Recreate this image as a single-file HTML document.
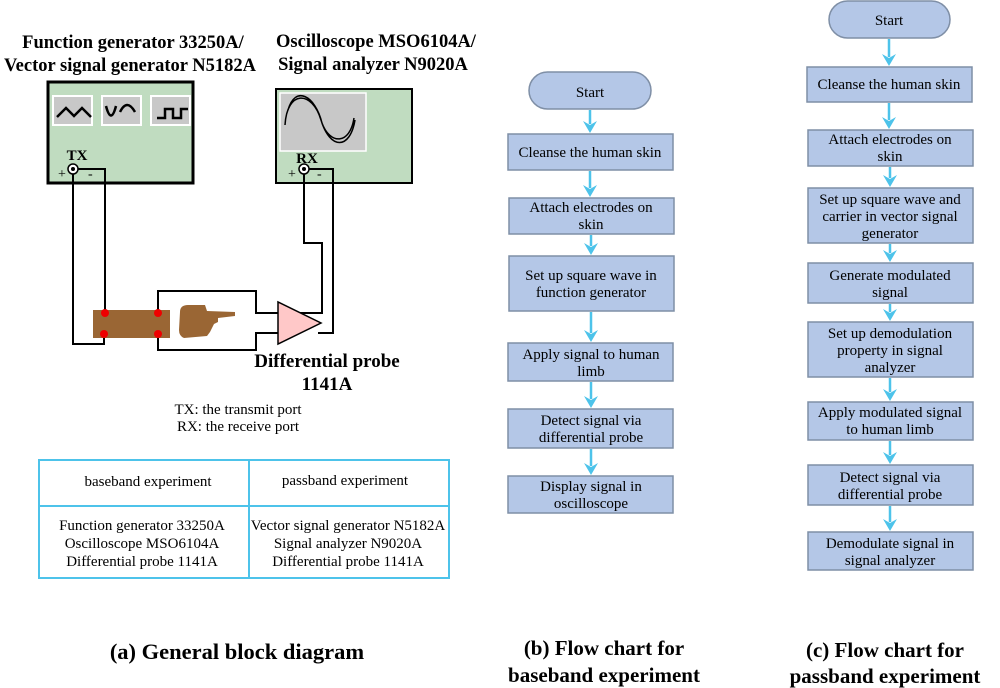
<!DOCTYPE html>
<html><head><meta charset="utf-8"><style>
body{margin:0;background:#fff}
svg{display:block}
text{font-family:"Liberation Serif",serif;fill:#000}
.b{font-weight:bold}
.fb{fill:#b4c7e7;stroke:#7f8fa6;stroke-width:1.5}
.ar line{stroke:#4dc3ea;stroke-width:2.5}
.ar path{fill:#4dc3ea}
</style></head><body>
<svg width="1000" height="688" viewBox="0 0 1000 688">
<!-- titles -->
<text class="b" x="133" y="48" font-size="18.5" text-anchor="middle">Function generator 33250A/</text>
<text class="b" x="130" y="71" font-size="18.5" text-anchor="middle">Vector signal generator N5182A</text>
<text class="b" x="376" y="47" font-size="18.5" text-anchor="middle">Oscilloscope MSO6104A/</text>
<text class="b" x="373" y="70" font-size="18.5" text-anchor="middle">Signal analyzer N9020A</text>
<!-- FG -->
<rect x="48" y="82" width="145" height="101" fill="#c0dcc0" stroke="#000" stroke-width="3"/>
<g fill="#c8c8c8" stroke="#fff" stroke-width="2">
<rect x="53" y="96" width="39" height="29"/><rect x="102" y="96" width="39" height="29"/><rect x="151" y="96" width="39" height="29"/></g>
<g fill="none" stroke="#000" stroke-width="2.5">
<path d="M57,117 L66,108 L74,116 L82,108 L91,117"/>
<path d="M106,106 Q111,125 116,106 M120,112 Q127,98 135,112"/>
<path d="M157,118 L165,118 L165,109 L173,109 L173,118 L181,118 L181,109 L188,109"/>
</g>
<text class="b" x="77" y="160" font-size="15" text-anchor="middle">TX</text>
<text x="58" y="178" font-size="14">+</text><text x="88" y="178" font-size="14">-</text>
<!-- Osc -->
<rect x="276" y="89" width="136" height="94" fill="#c0dcc0" stroke="#000" stroke-width="2"/>
<rect x="280" y="93" width="86" height="58" fill="#c8c8c8" stroke="#fff" stroke-width="1.5"/>
<path d="M285,125 C287,90 312,90 321,120 C330,150 350,150 355,120 M288,110 C295,85 315,95 322,123 C330,145 350,145 354,118" fill="none" stroke="#000" stroke-width="1.5"/>
<text class="b" x="307" y="163" font-size="15" text-anchor="middle">RX</text>
<text x="288" y="178" font-size="14">+</text><text x="317" y="178" font-size="14">-</text>
<!-- wires -->
<g fill="none" stroke="#000" stroke-width="2">
<path d="M73,169 L73,344 L104,344 L104,334"/>
<path d="M73,169 L105,169 L105,313"/>
<path d="M158,313 L158,291 L256,291 L256,313 L279,313"/>
<path d="M158,334 L158,350 L256,350 L256,333 L279,333"/>
<path d="M300,313 L322,313 L322,243 L304,243 L304,169"/>
<path d="M318,333 L333,333 L333,169 L304,169"/>
</g>
<circle cx="73" cy="169" r="5" fill="#fff" stroke="#000" stroke-width="1.5"/><circle cx="73" cy="169" r="2" fill="#000"/>
<circle cx="304" cy="169" r="5" fill="#fff" stroke="#000" stroke-width="1.5"/><circle cx="304" cy="169" r="2" fill="#000"/>
<rect x="93" y="310" width="77" height="28" fill="#9a6634"/>
<g fill="#e00"><circle cx="105" cy="313" r="4"/><circle cx="104" cy="334" r="4"/><circle cx="158" cy="313" r="4"/><circle cx="158" cy="334" r="4"/></g>
<path d="M180,312 Q180,305 188,305 L205,305 L207,311 L235,312 L235,316 L218,318 L218,322 L214,324 L212,328 L210,332 L207,336 L184,338 Q179,336 179,330 Z" fill="#9a6634"/>
<path d="M278,302 L278,344 L321,323 Z" fill="#ffc8c8" stroke="#000" stroke-width="1.5"/>
<text class="b" x="327" y="367" font-size="19" text-anchor="middle">Differential probe</text>
<text class="b" x="327" y="390" font-size="19" text-anchor="middle">1141A</text>
<text x="238" y="414" font-size="15" text-anchor="middle">TX: the transmit port</text>
<text x="238" y="431" font-size="15" text-anchor="middle">RX: the receive port</text>
<!-- table -->
<rect x="39" y="460" width="410" height="118" fill="none" stroke="#4dc3ea" stroke-width="2"/>
<line x1="249" y1="460" x2="249" y2="578" stroke="#4dc3ea" stroke-width="2"/>
<line x1="39" y1="506" x2="449" y2="506" stroke="#4dc3ea" stroke-width="2"/>
<g font-size="15" text-anchor="middle">
<text x="148" y="486">baseband experiment</text>
<text x="345" y="485">passband experiment</text>
<text x="142" y="530">Function generator 33250A</text>
<text x="142" y="548">Oscilloscope MSO6104A</text>
<text x="142" y="566">Differential probe 1141A</text>
<text x="348" y="530">Vector signal generator N5182A</text>
<text x="348" y="548">Signal analyzer N9020A</text>
<text x="348" y="566">Differential probe 1141A</text>
</g>
<text class="b" x="237" y="659" font-size="22.5" text-anchor="middle">(a) General block diagram</text>
<!-- flow b -->
<g font-size="15" text-anchor="middle">
<rect class="fb" x="529" y="72" width="122" height="37" rx="18.5"/><text x="590" y="97">Start</text>
<rect class="fb" x="508" y="134" width="165" height="36"/><text x="590" y="157">Cleanse the human skin</text>
<rect class="fb" x="509" y="198" width="165" height="36"/><text x="591" y="212">Attach electrodes on</text><text x="591" y="229">skin</text>
<rect class="fb" x="509" y="256" width="165" height="55"/><text x="591" y="280">Set up square wave in</text><text x="591" y="297">function generator</text>
<rect class="fb" x="508" y="343" width="165" height="38"/><text x="591" y="359">Apply signal to human</text><text x="591" y="376">limb</text>
<rect class="fb" x="508" y="409" width="165" height="39"/><text x="591" y="425">Detect signal via</text><text x="591" y="442">differential probe</text>
<rect class="fb" x="508" y="476" width="165" height="37"/><text x="591" y="491">Display signal in</text><text x="591" y="508">oscilloscope</text>
</g>
<g class="ar">
<line x1="590" y1="110" x2="590" y2="124"/><path d="M583,121 L590,125 L597,121 L590,133 Z"/>
<line x1="590" y1="171" x2="590" y2="188"/><path d="M583,185 L590,189 L597,185 L590,197 Z"/>
<line x1="591" y1="235" x2="591" y2="246"/><path d="M584,243 L591,247 L598,243 L591,255 Z"/>
<line x1="591" y1="312" x2="591" y2="333"/><path d="M584,330 L591,334 L598,330 L591,342 Z"/>
<line x1="591" y1="382" x2="591" y2="399"/><path d="M584,396 L591,400 L598,396 L591,408 Z"/>
<line x1="591" y1="449" x2="591" y2="466"/><path d="M584,463 L591,467 L598,463 L591,475 Z"/>
</g>
<text class="b" x="604" y="655" font-size="21" text-anchor="middle">(b) Flow chart for</text>
<text class="b" x="604" y="682" font-size="21" text-anchor="middle">baseband experiment</text>
<!-- flow c -->
<g font-size="15" text-anchor="middle">
<rect class="fb" x="829" y="1" width="121" height="37" rx="18.5"/><text x="889" y="25">Start</text>
<rect class="fb" x="807" y="67" width="165" height="35"/><text x="889" y="89">Cleanse the human skin</text>
<rect class="fb" x="808" y="130" width="165" height="36"/><text x="890" y="144">Attach electrodes on</text><text x="890" y="161">skin</text>
<rect class="fb" x="808" y="188" width="165" height="55"/><text x="890" y="204">Set up square wave and</text><text x="890" y="221">carrier in vector signal</text><text x="890" y="238">generator</text>
<rect class="fb" x="808" y="263" width="165" height="40"/><text x="890" y="280">Generate modulated</text><text x="890" y="297">signal</text>
<rect class="fb" x="808" y="322" width="165" height="55"/><text x="890" y="338">Set up demodulation</text><text x="890" y="355">property in signal</text><text x="890" y="372">analyzer</text>
<rect class="fb" x="808" y="402" width="165" height="38"/><text x="890" y="417">Apply modulated signal</text><text x="890" y="434">to human limb</text>
<rect class="fb" x="808" y="465" width="165" height="40"/><text x="890" y="482">Detect signal via</text><text x="890" y="499">differential probe</text>
<rect class="fb" x="808" y="532" width="165" height="38"/><text x="890" y="548">Demodulate signal in</text><text x="890" y="565">signal analyzer</text>
</g>
<g class="ar">
<line x1="889" y1="39" x2="889" y2="57"/><path d="M882,54 L889,58 L896,54 L889,66 Z"/>
<line x1="889" y1="103" x2="889" y2="120"/><path d="M882,117 L889,121 L896,117 L889,129 Z"/>
<line x1="890" y1="167" x2="890" y2="178"/><path d="M883,175 L890,179 L897,175 L890,187 Z"/>
<line x1="890" y1="244" x2="890" y2="253"/><path d="M883,250 L890,254 L897,250 L890,262 Z"/>
<line x1="890" y1="304" x2="890" y2="312"/><path d="M883,309 L890,313 L897,309 L890,321 Z"/>
<line x1="890" y1="378" x2="890" y2="392"/><path d="M883,389 L890,393 L897,389 L890,401 Z"/>
<line x1="890" y1="441" x2="890" y2="455"/><path d="M883,452 L890,456 L897,452 L890,464 Z"/>
<line x1="890" y1="506" x2="890" y2="522"/><path d="M883,519 L890,523 L897,519 L890,531 Z"/>
</g>
<text class="b" x="885" y="657" font-size="21" text-anchor="middle">(c) Flow chart for</text>
<text class="b" x="885" y="683" font-size="21" text-anchor="middle">passband experiment</text>
</svg>
</body></html>
